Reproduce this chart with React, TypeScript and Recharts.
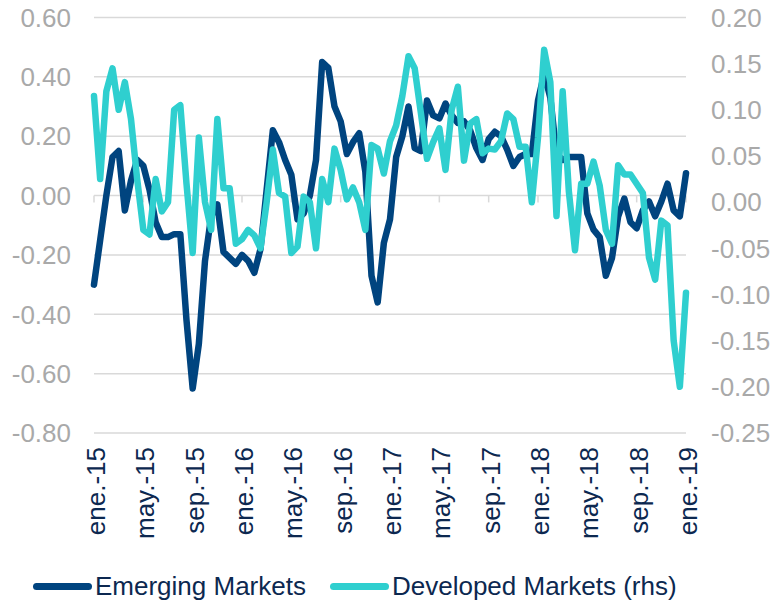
import React from 'react';
import { LineChart, Line, XAxis, YAxis, CartesianGrid, Legend, ReferenceLine } from 'recharts';

// Semi-monthly observation dates, Jan 2015 – Jan 2019
const MONTH_LABELS = ['ene.', 'feb.', 'mar.', 'abr.', 'may.', 'jun.', 'jul.', 'ago.', 'sep.', 'oct.', 'nov.', 'dic.'];
const pad = (n: number) => (n < 10 ? '0' + n : '' + n);
const dates: string[] = [];
for (let y = 2015; y <= 2018; y++) {
  for (let m = 1; m <= 12; m++) {
    dates.push(`${y}-${pad(m)}-01`, `${y}-${pad(m)}-16`);
  }
}
dates.push('2019-01-01');

const emergingMarkets = [
  -0.30, -0.15, 0.00, 0.13, 0.15, -0.05, 0.05, 0.12, 0.10, 0.02,
  -0.09, -0.14, -0.14, -0.13, -0.13, -0.42, -0.65, -0.50, -0.22, -0.07,
  -0.03, -0.19, -0.21, -0.23, -0.20, -0.22, -0.26, -0.18, 0.02, 0.22,
  0.18, 0.12, 0.07, -0.08, -0.06, 0.00, 0.12, 0.45, 0.43, 0.30,
  0.25, 0.14, 0.18, 0.21, 0.08, -0.27, -0.36, -0.16, -0.08, 0.13,
  0.20, 0.30, 0.16, 0.15, 0.32, 0.27, 0.26, 0.31, 0.27, 0.245,
  0.25, 0.22, 0.16, 0.12, 0.19, 0.215, 0.20, 0.155, 0.10, 0.13,
  0.14, 0.14, 0.32, 0.41, 0.33, 0.14, 0.12, 0.13, 0.13, 0.13,
  -0.06, -0.115, -0.14, -0.27, -0.21, -0.07, -0.01, -0.09, -0.11, -0.05,
  -0.02, -0.07, -0.02, 0.04, -0.05, -0.07, 0.075,
];

const developedMarkets = [
  0.115, 0.025, 0.12, 0.145, 0.10, 0.13, 0.09, 0.025, -0.03, -0.035,
  0.025, -0.01, 0.0, 0.10, 0.105, 0.02, -0.055, 0.07, 0.0, -0.03,
  0.09, 0.015, 0.015, -0.045, -0.04, -0.03, -0.036, -0.05, 0.0, 0.057,
  0.01, 0.006, -0.055, -0.048, 0.006, 0.0, -0.05, 0.025, 0.0, 0.058,
  0.035, 0.003, 0.016, 0.0, -0.03, 0.062, 0.058, 0.031, 0.066, 0.083,
  0.115, 0.158, 0.145, 0.097, 0.047, 0.065, 0.08, 0.035, 0.10, 0.125,
  0.045, 0.085, 0.09, 0.053, 0.058, 0.057, 0.066, 0.096, 0.09, 0.06,
  0.06, 0.0, 0.07, 0.165, 0.13, -0.015, 0.12, 0.012, -0.052, 0.02,
  0.02, 0.044, 0.018, -0.03, -0.045, 0.04, 0.03, 0.03, 0.02, 0.01,
  -0.06, -0.084, -0.02, -0.025, -0.15, -0.2, -0.098,
];

const SERIES_NAMES = ['Emerging Markets', 'Developed Markets (rhs)'];
const leftTicks = [0.6, 0.4, 0.2, 0, -0.2, -0.4, -0.6, -0.8];
const rightTicks = [0.2, 0.15, 0.1, 0.05, 0, -0.05, -0.1, -0.15, -0.2, -0.25];
const tickDates = dates.filter((_, i) => i % 8 === 0);

const data = dates.map((d, i) => ({ date: d, em: emergingMarkets[i], dm: developedMarkets[i] }));

const NAVY = '#00447f';
const TEAL = '#2fcfcf';
const TEXT = '#0c2850';
const GREY_TEXT = '#a9a9a9';
const GRID = '#d9d9d9';
const FONT = '"Liberation Sans", Arial, sans-serif';

const fmtDate = (d: string) => {
  const [y, m] = d.split('-');
  return `${MONTH_LABELS[parseInt(m, 10) - 1]}-${y.slice(2)}`;
};

const XTick = (props: any) => {
  const { x, y, payload } = props;
  const cx = x + 2;
  return (
    <text
      x={cx}
      y={y}
      transform={`rotate(-90 ${cx} ${y})`}
      textAnchor="end"
      dominantBaseline="central"
      fill={TEXT}
      fontSize={26}
      fontFamily={FONT}
    >
      {fmtDate(payload.value)}
    </text>
  );
};

const LegendContent = (props: any) => {
  const payload = [...(props.payload || [])].sort(
    (a: any, b: any) => SERIES_NAMES.indexOf(a.value) - SERIES_NAMES.indexOf(b.value)
  );
  return (
    <div
      style={{
        display: 'flex',
        alignItems: 'center',
        height: 40,
        paddingLeft: 33,
        paddingTop: 6,
        boxSizing: 'border-box',
        fontFamily: FONT,
        fontSize: 26,
        color: TEXT,
      }}
    >
      {payload.map((p: any) => (
        <div key={p.value} style={{ display: 'flex', alignItems: 'center', marginRight: 24 }}>
          <span
            style={{
              display: 'inline-block',
              width: 59,
              height: 7,
              borderRadius: 4,
              background: p.color,
              marginRight: 3,
            }}
          />
          <span style={{ lineHeight: '30px' }}>{p.value}</span>
        </div>
      ))}
    </div>
  );
};

export default function App() {
  return (
    <div style={{ position: 'absolute', left: 0, top: 0, width: 770, height: 603, background: '#fff' }}>
      <LineChart width={770} height={603} data={data} margin={{ top: 17.5, right: 0, left: 0, bottom: 0 }}>
        <CartesianGrid horizontal vertical={false} stroke={GRID} strokeWidth={1.5} yAxisId="left" />
        <XAxis
          dataKey="date"
          interval={7}
          height={130}
          axisLine={false}
          tickLine={false}
          tickSize={0}
          tickMargin={14}
          tick={<XTick />}
        />
        <YAxis
          yAxisId="left"
          orientation="left"
          width={94}
          domain={[-0.8, 0.6]}
          ticks={leftTicks}
          tickFormatter={(v: number) => v.toFixed(2)}
          axisLine={false}
          tickLine={false}
          tickSize={0}
          tickMargin={23}
          tick={{ fill: GREY_TEXT, fontSize: 26, fontFamily: FONT }}
        />
        <YAxis
          yAxisId="right"
          orientation="right"
          width={84}
          domain={[-0.25, 0.2]}
          ticks={rightTicks}
          tickFormatter={(v: number) => v.toFixed(2)}
          axisLine={false}
          tickLine={false}
          tickSize={0}
          tickMargin={25}
          tick={{ fill: GREY_TEXT, fontSize: 26, fontFamily: FONT }}
        />
        {tickDates.map((d) => (
          <ReferenceLine
            key={d}
            yAxisId="left"
            segment={[{ x: d, y: 0 }, { x: d, y: -0.023 }]}
            stroke={GRID}
            strokeWidth={1.5}
          />
        ))}
        <Legend verticalAlign="bottom" wrapperStyle={{ left: 0, width: 770, height: 40 }} content={<LegendContent />} />
        <Line
          yAxisId="left"
          type="linear"
          dataKey="em"
          name={SERIES_NAMES[0]}
          stroke={NAVY}
          strokeWidth={6.5}
          strokeLinejoin="round"
          strokeLinecap="round"
          dot={false}
          isAnimationActive={false}
        />
        <Line
          yAxisId="right"
          type="linear"
          dataKey="dm"
          name={SERIES_NAMES[1]}
          stroke={TEAL}
          strokeWidth={6.5}
          strokeLinejoin="round"
          strokeLinecap="round"
          dot={false}
          isAnimationActive={false}
        />
      </LineChart>
    </div>
  );
}
